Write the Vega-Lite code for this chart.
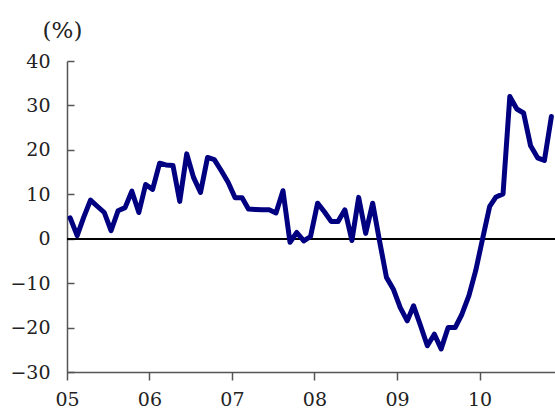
{
  "$schema": "https://vega.github.io/schema/vega-lite/v6.json",
  "width": 488,
  "height": 311,
  "autosize": {"type": "none"},
  "padding": {"left": 67, "top": 61, "right": 0, "bottom": 36},
  "config": {
    "view": {"stroke": null},
    "axis": {
      "grid": false,
      "labelFont": "DejaVu Serif",
      "labelFontSize": 19,
      "labelColor": "#222222",
      "titleFont": "DejaVu Serif",
      "titleFontSize": 23,
      "titleFontWeight": "normal",
      "titleColor": "#222222",
      "domainColor": "#555555",
      "tickColor": "#555555",
      "domainWidth": 1.5,
      "tickWidth": 1.5
    }
  },
  "data": {
    "values": [
      {"date": "2005-01-15", "value": 4.7},
      {"date": "2005-02-15", "value": 0.7},
      {"date": "2005-03-15", "value": 4.7},
      {"date": "2005-04-15", "value": 8.7},
      {"date": "2005-05-15", "value": 7.3},
      {"date": "2005-06-15", "value": 5.9},
      {"date": "2005-07-15", "value": 1.8},
      {"date": "2005-08-15", "value": 6.3},
      {"date": "2005-09-15", "value": 7.0},
      {"date": "2005-10-15", "value": 10.7},
      {"date": "2005-11-15", "value": 5.9},
      {"date": "2005-12-15", "value": 12.2},
      {"date": "2006-01-15", "value": 11.1},
      {"date": "2006-02-15", "value": 17.0},
      {"date": "2006-03-15", "value": 16.6},
      {"date": "2006-04-15", "value": 16.5},
      {"date": "2006-05-15", "value": 8.4},
      {"date": "2006-06-15", "value": 19.1},
      {"date": "2006-07-15", "value": 13.8},
      {"date": "2006-08-15", "value": 10.4},
      {"date": "2006-09-15", "value": 18.3},
      {"date": "2006-10-15", "value": 17.8},
      {"date": "2006-11-15", "value": 15.3},
      {"date": "2006-12-15", "value": 12.7},
      {"date": "2007-01-15", "value": 9.2},
      {"date": "2007-02-15", "value": 9.2},
      {"date": "2007-03-15", "value": 6.7},
      {"date": "2007-04-15", "value": 6.6},
      {"date": "2007-05-15", "value": 6.5},
      {"date": "2007-06-15", "value": 6.5},
      {"date": "2007-07-15", "value": 5.8},
      {"date": "2007-08-15", "value": 10.8},
      {"date": "2007-09-15", "value": -0.8},
      {"date": "2007-10-15", "value": 1.4},
      {"date": "2007-11-15", "value": -0.5},
      {"date": "2007-12-15", "value": 0.5},
      {"date": "2008-01-15", "value": 8.0},
      {"date": "2008-02-15", "value": 6.0},
      {"date": "2008-03-15", "value": 3.9},
      {"date": "2008-04-15", "value": 3.9},
      {"date": "2008-05-15", "value": 6.5},
      {"date": "2008-06-15", "value": -0.4},
      {"date": "2008-07-15", "value": 9.3},
      {"date": "2008-08-15", "value": 1.2},
      {"date": "2008-09-15", "value": 8.0},
      {"date": "2008-10-15", "value": -0.4},
      {"date": "2008-11-15", "value": -8.7},
      {"date": "2008-12-15", "value": -11.3},
      {"date": "2009-01-15", "value": -15.5},
      {"date": "2009-02-15", "value": -18.5},
      {"date": "2009-03-15", "value": -15.1},
      {"date": "2009-04-15", "value": -19.6},
      {"date": "2009-05-15", "value": -24.1},
      {"date": "2009-06-15", "value": -21.5},
      {"date": "2009-07-15", "value": -24.8},
      {"date": "2009-08-15", "value": -20.0},
      {"date": "2009-09-15", "value": -20.0},
      {"date": "2009-10-15", "value": -17.0},
      {"date": "2009-11-15", "value": -12.8},
      {"date": "2009-12-15", "value": -7.2},
      {"date": "2010-01-15", "value": 0.1},
      {"date": "2010-02-15", "value": 7.3},
      {"date": "2010-03-15", "value": 9.4},
      {"date": "2010-04-15", "value": 10.1},
      {"date": "2010-05-15", "value": 32.0},
      {"date": "2010-06-15", "value": 29.2},
      {"date": "2010-07-15", "value": 28.3},
      {"date": "2010-08-15", "value": 20.9},
      {"date": "2010-09-15", "value": 18.2},
      {"date": "2010-10-15", "value": 17.6},
      {"date": "2010-11-15", "value": 27.5}
    ]
  },
  "layer": [
    {
      "mark": {"type": "rule", "color": "#000000", "strokeWidth": 1},
      "encoding": {"y": {"datum": 0, "type": "quantitative", "scale": {"domain": [-30, 40]}}}
    },
    {
      "mark": {"type": "line", "color": "#000080", "strokeWidth": 5, "strokeJoin": "round", "strokeCap": "round"},
      "encoding": {
        "x": {
          "field": "date",
          "type": "temporal",
          "scale": {"type": "utc", "domain": [{"year": 2005, "month": 1, "date": 1, "utc": true}, {"year": 2010, "month": 12, "date": 1, "utc": true}]},
          "axis": {
            "title": null,
            "format": "%y",
            "values": [
              {"year": 2005, "month": 1, "date": 1, "utc": true},
              {"year": 2006, "month": 1, "date": 1, "utc": true},
              {"year": 2007, "month": 1, "date": 1, "utc": true},
              {"year": 2008, "month": 1, "date": 1, "utc": true},
              {"year": 2009, "month": 1, "date": 1, "utc": true},
              {"year": 2010, "month": 1, "date": 1, "utc": true}
            ],
            "tickSize": 8,
            "labelPadding": 10,
            "labelFlush": false,
            "labelOverlap": false
          }
        },
        "y": {
          "field": "value",
          "type": "quantitative",
          "scale": {"domain": [-30, 40], "nice": false, "zero": false},
          "axis": {
            "title": "(%)",
            "titleAngle": 0,
            "titleX": -5,
            "titleY": -31,
            "titleAlign": "center",
            "titleBaseline": "middle",
            "values": [-30, -20, -10, 0, 10, 20, 30, 40],
            "tickSize": -7,
            "labelPadding": 24
          }
        }
      }
    }
  ]
}
